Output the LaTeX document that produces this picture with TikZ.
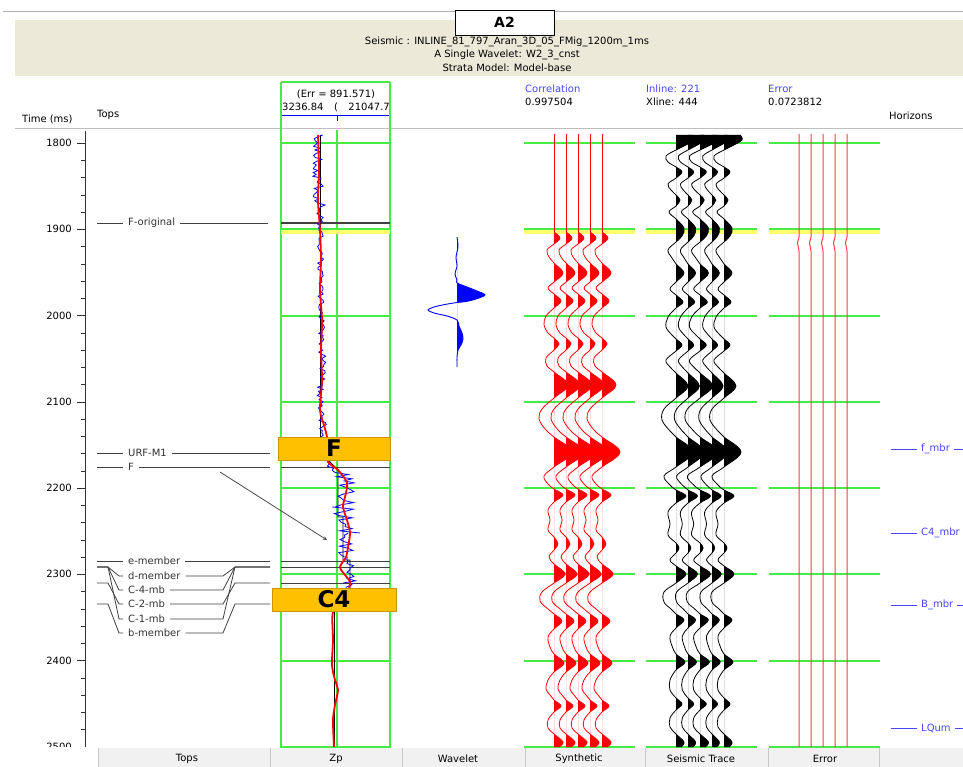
\documentclass[tikz,border=0pt]{standalone}
\usepackage{fontspec}
\setmainfont{DejaVu Sans}
\usetikzlibrary{arrows}

\definecolor{bandbeige}{RGB}{236,233,216}
\definecolor{gridgreen}{RGB}{70,235,70}
\definecolor{bandyellow}{RGB}{255,255,110}
\definecolor{boxorange}{RGB}{255,192,0}
\definecolor{boxedge}{RGB}{205,150,0}
\definecolor{hzblue}{RGB}{70,70,245}
\definecolor{tabgray}{RGB}{241,241,241}
\definecolor{sepgray}{RGB}{200,200,200}

\tikzstyle{txt} = [font=\fontsize{10}{12}\selectfont, inner sep=0pt]
\tikzstyle{bluetxt} = [txt, text=hzblue]
\tikzstyle{toptxt} = [txt, text=black!80, inner xsep=5pt]
\tikzstyle{topline} = [draw=black!75, line width=0.8pt]
\tikzstyle{grid} = [draw=gridgreen, line width=1.4pt]
\tikzstyle{zone} = [rectangle, draw=boxedge, fill=boxorange, line width=0.8pt, inner sep=0pt,
font=\fontsize{23}{24}\bfseries\selectfont]
\tikzstyle{arrow} = [line width=0.8pt, draw=black!70, ->, >=stealth]
\tikzstyle{hzline} = [draw=hzblue, line width=0.9pt]

% wiggles, x relative to the trace axis, y in ms-pixels
\newcommand{\synwig}{plot[smooth, tension=0.6] coordinates {(0,232) (6,238) (0,244) (-7,250) (-5,257)
(0,263) (9,273) (0,282) (-6,288) (0,294) (7,301) (0,308) (-8,316) (-10,325) (-6,333) (0,338) (5,344)
(0,350) (-8,358) (-7,366) (0,372) (14,385) (0,398) (-12,409) (-15,419) (-8,430) (0,437) (18,452)
(0,467) (-10,476) (-6,484) (0,489) (9,495) (0,502) (-6,510) (-4,520) (-6,530) (0,537) (4,544)
(0,550) (-5,557) (0,564) (11,574) (0,583) (-12,592) (-14,601) (-6,609) (0,614) (8,621) (0,629)
(-6,637) (-4,647) (0,654) (10,663) (0,672) (-6,680) (-8,689) (-4,695) (0,700) (7,706) (0,712)
(-6,720) (-6,728) (0,734) (9,742) (5,747)}}
\newcommand{\seiswig}{plot[smooth, tension=0.6] coordinates {(16,135) (18,140) (8,146) (0,150)
(-10,156) (-8,162) (0,167) (6,172) (0,178) (-8,184) (-5,190) (0,195) (4,200) (0,206) (-7,212)
(0,219) (8,228) (6,236) (0,242) (-8,250) (-4,258) (0,264) (8,273) (0,282) (-6,289) (0,295) (7,302)
(0,308) (-8,317) (-10,327) (-4,335) (0,339) (6,345) (0,351) (-10,360) (-6,367) (0,373) (12,386)
(0,398) (-12,409) (-14,420) (-6,431) (0,437) (17,452) (0,467) (-12,476) (-6,485) (0,490) (10,496)
(0,503) (-8,512) (-6,524) (-8,535) (0,543) (3,548) (0,553) (-6,560) (0,566) (10,574) (0,583)
(-12,592) (-12,602) (-5,609) (0,614) (8,620) (0,628) (-6,636) (-4,646) (0,654) (9,662) (0,670)
(-6,680) (-6,690) (0,698) (6,704) (0,710) (-6,718) (-6,727) (0,734) (8,742) (5,747)}}
\newcommand{\wavpath}{plot[smooth, tension=0.5] coordinates {(457,237) (458,247) (456,257) (457,266)
(455,274) (457,280) (457,283) (467,287) (477,291) (485,295) (476,299) (466,301.5) (457,302.5)
(445,304.5) (434,307) (428,310) (434,313) (447,316) (457,320) (459,326) (462,333) (463,339)
(461,345) (458,350) (457,357) (457,367)}}

\begin{document}
\begin{tikzpicture}[x=1pt, y=-1pt]
    \useasboundingbox (0,0) rectangle (963,767);
    \fill[white] (0,0) rectangle (963,767);

    % Header
    \draw[black!30] (3,11) -- (963,11);
    \fill[bandbeige] (15,20) rectangle (963,76);
    \node[draw, fill=white, line width=0.8pt, minimum width=99pt, minimum height=25pt,
      font=\fontsize{14}{16}\bfseries\selectfont] (title) at (504.5,22.5) {A2};
    \node[txt] (seis) at (507,42) {Seismic : INLINE\_81\_797\_Aran\_3D\_05\_FMig\_1200m\_1ms};
    \node[txt] (wave) at (507,55) {A Single Wavelet: W2\_3\_cnst};
    \node[txt] (strata) at (507,68) {Strata Model: Model-base};

    % Column heads
    \node[txt, anchor=west] (timehd) at (22,119) {Time (ms)};
    \node[txt, anchor=west] (tophd) at (97,115) {Tops};
    \node[txt] (errzp) at (336,94) {(Err = 891.571)};
    \node[txt, anchor=west] (zpmin) at (282,107) {3236.84};
    \node[txt] (zpmid) at (336,107) {(};
    \node[txt, anchor=east] (zpmax) at (390,107) {21047.7};
    \node[bluetxt, anchor=west] (corrhd) at (525,89) {Correlation};
    \node[txt, anchor=west] (corrval) at (525,102) {0.997504};
    \node[bluetxt, anchor=west] (inlhd) at (646,89) {Inline: 221};
    \node[txt, anchor=west] (xlval) at (646,102) {Xline: 444};
    \node[bluetxt, anchor=west] (errhd) at (768,89) {Error};
    \node[txt, anchor=west] (errval) at (768,102) {0.0723812};
    \node[txt, anchor=west] (hzhd) at (889,116) {Horizons};
    \draw[black!25, line width=1.5pt] (15,128.5) -- (963,128.5);
    \draw[blue, line width=0.8pt] (281,115) -- (390,115);
    \foreach \x in {281,337,390} \draw[blue, line width=0.8pt] (\x,115) -- (\x,121);

    % Time axis
    \draw[black!80, line width=0.8pt] (85,131) -- (85,748);
    \foreach \t in {1800,1820,...,2500} {
      \pgfmathsetmacro\ty{143+(\t-1800)*0.8625}
      \draw[black!80] (81,\ty) -- (85,\ty);
    }
    \foreach \t in {1800,1900,...,2500} {
      \pgfmathsetmacro\ty{143+(\t-1800)*0.8625}
      \draw[black!80] (77,\ty) -- (85,\ty);
      \node[txt, anchor=east] (tm\t) at (72,\ty) {\t};
    }

    % Grids
    \foreach \x in {281,390} \draw[grid] (\x,82) -- (\x,748);
    \draw[grid] (337,130) -- (337,748);
    \draw[grid] (281,82) -- (390,82);
    \foreach \xa/\xb in {281/390, 524/635, 646/757, 769/880} {
      \foreach \k in {0,...,7} {
        \pgfmathsetmacro\gy{round(143+86.25*\k)}
        \fill[gridgreen] (\xa,\gy-0.8) rectangle (\xb,\gy+0.8);
      }
      \fill[bandyellow] (\xa,230.5) rectangle (\xb,234.5);
    }
    \draw[topline, line width=1.4pt] (281,223) -- (390,223);
    \foreach \y in {453,467,561,567,583,604} \draw[topline] (281,\y) -- (390,\y);

    % Zp log
    \draw[black, line width=0.8pt] (320,135) -- (320,437);
    \draw[black, line width=0.8pt] (330,462) -- (338,470) -- (338,517) -- (343,517) -- (343,560)
      -- (350,560) -- (350,588);
    \draw[black, line width=0.8pt] (334,611) -- (334,747);
    \pgfmathsetseed{4}
    \foreach \ya/\xa/\yb/\xb/\n/\s in {135/318/180/319/6/25, 180/319/230/320/6/25,
      230/320/290/321/3/30, 290/321/350/322/3/30, 350/322/410/320/4/30, 410/320/462/328/5/26,
      462/328/483/347/9/11, 483/347/507/343/10/12, 507/343/533/350/11/13, 533/350/557/346/10/12,
      557/346/583/350/7/13, 583/350/600/345/4/9} {
      \draw[blue, line width=0.8pt] plot[domain=\ya:\yb, samples=\s, variable=\u]
        ({\xa+(\xb-\xa)*(\u-\ya)/(\yb-\ya)+\n*rand}, \u);
    }
    \draw[red, line width=1.8pt, line join=round] plot[smooth, tension=0.5] coordinates {(318,135)
      (319,170) (318,200) (320,230) (321,260) (320,290) (322,320) (321,350) (322,380) (320,410)
      (324,425) (327,437) (328,450) (328,462) (338,470) (347,483) (345,497) (343,507) (347,520)
      (350,533) (348,547) (346,557) (340,567) (345,575) (350,583) (345,600) (333,612) (333,640)
      (332,665) (335,680) (338,690) (335,705) (333,720) (334,747)};

    % Wavelet
    \begin{scope}
      \clip (457,230) rectangle (500,370);
      \fill[blue] \wavpath -- (457,367) -- (457,237) -- cycle;
    \end{scope}
    \draw[blue, line width=0.9pt] \wavpath;

    % Synthetic traces
    \foreach \tx in {554,566,578,590,602} {
      \draw[red, line width=0.8pt] (\tx,134) -- (\tx,232);
      \begin{scope}[shift={(\tx,0)}]
        \begin{scope}
          \clip (0,230) rectangle (30,747);
          \fill[red] \synwig -- (0,747) -- (0,232) -- cycle;
        \end{scope}
        \draw[red, line width=0.8pt] \synwig;
      \end{scope}
    }

    % Seismic traces
    \foreach \tx/\sc in {676/1.0, 688/0.95, 700/1.05, 712/0.92, 724/1.0} {
      \begin{scope}[shift={(\tx,0)}, xscale=\sc]
        \begin{scope}
          \clip (0,133) rectangle (30,747);
          \fill[black] \seiswig -- (0,747) -- (0,135) -- cycle;
        \end{scope}
        \draw[black, line width=0.8pt] \seiswig;
      \end{scope}
    }

    % Error traces
    \foreach \tx in {799,811,823,835,847}
      \draw[red!75, line width=1pt] (\tx,134) -- (\tx,237) -- (\tx-1.5,243) -- (\tx,251) -- (\tx,747);

    % Zones
    \node[zone, minimum width=112pt, minimum height=23pt] (fzone) at (334,448.5) {F};
    \node[zone, minimum width=124pt, minimum height=23pt] (czone) at (334,599.5) {C4};

    % Tops
    \foreach \nm/\txt/\y/\xe in {forig/F-original/223/268, urf/URF-M1/453/270, ftop/F/467/270,
      emem/e-member/561/270} {
      \coordinate (\nm-l) at (97,\y);
      \coordinate (\nm-r) at (\xe,\y);
      \node[toptxt, anchor=west] (\nm) at (123,\y) {\txt};
      \draw[topline] (\nm-l) -- (\nm.west);
      \draw[topline] (\nm.east) -- (\nm-r);
    }
    \foreach \nm/\txt/\y/\yt in {dmem/d-member/576/567, c4mb/C-4-mb/590/567, c2mb/C-2-mb/604/583,
      c1mb/C-1-mb/619/567, bmem/b-member/633/604} {
      \coordinate (\nm-l) at (97,\yt);
      \coordinate (\nm-r) at (270,\yt);
      \node[toptxt, anchor=west] (\nm) at (123,\y) {\txt};
      \draw[topline] (\nm-l) -- (108,\yt) -- (119,\y) -- (\nm.west);
      \draw[topline] (\nm.east) -- (223,\y) -- (235,\yt) -- (\nm-r);
    }

    % Arrow
    \coordinate (arrtail) at (220,472);
    \coordinate (arrhead) at (327,540);
    \draw[arrow] (arrtail) -- (arrhead);

    % Horizons
    \foreach \nm/\txt/\y in {fmbr/f\_mbr/449, cmbr/C4\_mbr/533, bmbr/B\_mbr/605, lqum/LQum/728} {
      \coordinate (\nm-l) at (891,\y);
      \coordinate (\nm-r) at (963,\y);
      \node[bluetxt, anchor=west] (\nm) at (921,\y) {\txt};
      \draw[hzline] (\nm-l) -- ([xshift=-4pt]\nm.west);
      \draw[hzline] ([xshift=4pt]\nm.east) -- (\nm-r);
    }

    % Panel bottom and tab bar
    \fill[white] (0,746.5) rectangle (98,767);
    \fill[tabgray] (98,748) rectangle (963,767);
    \foreach \x in {98,270,402,525,645,768,879} \draw[sepgray] (\x,748) -- (\x,767);
    \foreach \nm/\txt/\x in {tbtops/Tops/187, tbzp/Zp/336, tbwav/Wavelet/458, tbsyn/Synthetic/579,
      tbseis/Seismic Trace/701, tberr/Error/825}
      \node[txt] (\nm) at (\x,759) {\txt};

\end{tikzpicture}
\end{document}
